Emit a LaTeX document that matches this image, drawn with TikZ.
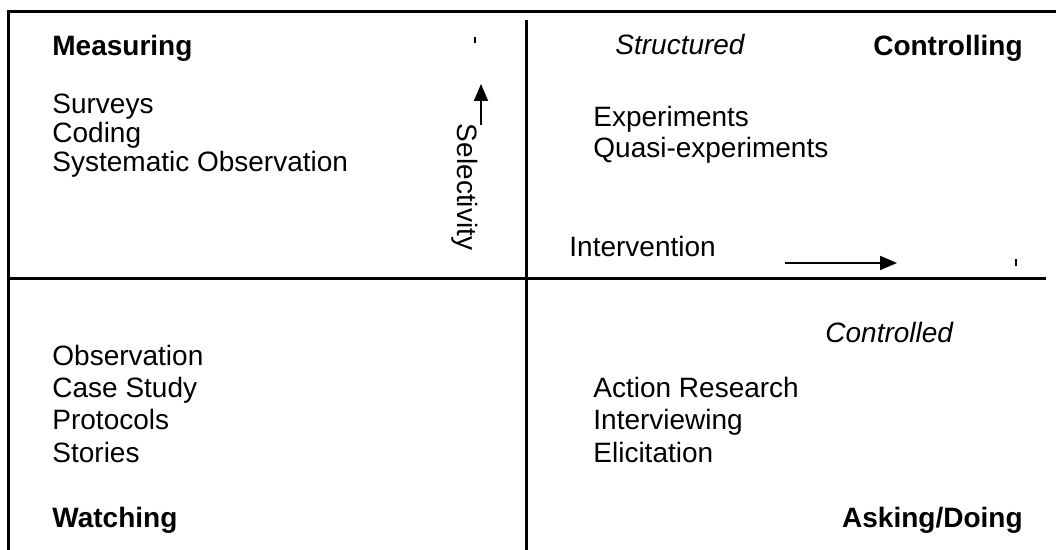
\documentclass[tikz,border=0pt]{standalone}
\usepackage{fontspec}
\setmainfont{Liberation Sans}
\usetikzlibrary{arrows.meta}

\begin{document}
\begin{tikzpicture}[x=0.5pt, y=-0.5pt,
    item/.style={anchor=base west, inner sep=0pt, font=\fontsize{14}{16}\selectfont},
    corner/.style={item, font=\fontsize{14}{16}\selectfont\bfseries},
    pole/.style={item, font=\fontsize{14}{16}\selectfont\itshape},
    rule/.style={line width=1.5pt},
    axis/.style={line width=0.9pt, -{Triangle[length=8.5pt,width=7pt]}}]
      \useasboundingbox (0,0) rectangle (1056,550);
      % frame and quadrants
      \draw[rule] (1056,12) -- (8,12) -- (8,550);
      \draw[rule] (8,279) -- (1046,279);
      \draw[rule] (526,20) -- (526,550);
      % top left
      \node[corner] (measuring) at (52,56) {Measuring};
      \node[item] (surveys) at (52,114) {Surveys};
      \node[item] (coding) at (52,143) {Coding};
      \node[item] (sysobs) at (52,172) {Systematic Observation};
      \node[item, rotate=-90, anchor=center] (selectivity) at (465,187) {Selectivity};
      \coordinate (selTail) at (481,125);
      \coordinate (selTip) at (481,84);
      \draw[axis] (selTail) -- (selTip);
      \draw[line width=0.8pt] (475,37) -- (475,43);
      % top right
      \node[pole] (structured) at (615,55) {Structured};
      \node[corner, anchor=base east] (controlling) at (1023,56) {Controlling};
      \node[item] (experiments) at (593,127) {Experiments};
      \node[item] (quasi) at (593,158) {Quasi-experiments};
      \node[item] (intervention) at (569,257) {Intervention};
      \coordinate (intTail) at (785,263);
      \coordinate (intTip) at (897,263);
      \draw[axis] (intTail) -- (intTip);
      \draw[line width=0.8pt] (1016,259) -- (1016,266);
      % bottom left
      \node[item] (observation) at (52,366) {Observation};
      \node[item] (casestudy) at (52,398) {Case Study};
      \node[item] (protocols) at (52,430) {Protocols};
      \node[item] (stories) at (52,463) {Stories};
      \node[corner] (watching) at (52,528) {Watching};
      % bottom right
      \node[pole] (controlled) at (825,343) {Controlled};
      \node[item] (action) at (593,398) {Action Research};
      \node[item] (interviewing) at (593,430) {Interviewing};
      \node[item] (elicitation) at (593,463) {Elicitation};
      \node[corner, anchor=base east] (asking) at (1023,528) {Asking/Doing};
\end{tikzpicture}
\end{document}
